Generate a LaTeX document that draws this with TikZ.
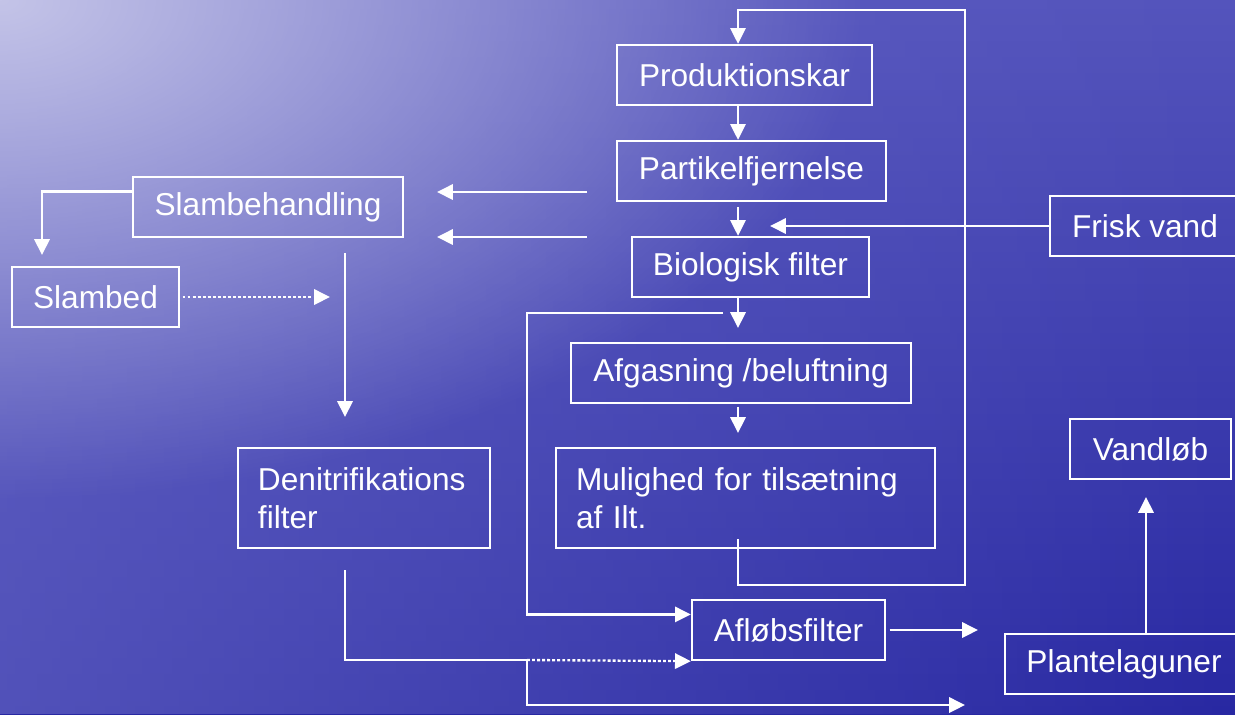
\documentclass[tikz,border=0pt]{standalone}
\usepackage{fontspec}
\setmainfont{Liberation Sans}
\usetikzlibrary{arrows.meta, positioning, calc, fadings}
\definecolor{seadark}{RGB}{40, 40, 162}
\definecolor{seatop}{RGB}{84, 84, 188}
\definecolor{seawash}{RGB}{104, 104, 198}
\definecolor{sealight}{RGB}{196, 196, 232}

\tikzfading[name=cornerglow, inner color=transparent!0, outer color=transparent!100]
\tikzfading[name=leftwash, left color=transparent!35, right color=transparent!100]

\tikzset{
  stage/.style={rectangle, draw=white, line width=2pt, text=white,
    font=\fontsize{27}{32.5}\selectfont, inner sep=0pt, minimum height=1.8cm},
  stagetext/.style={stage, align=left, inner xsep=0.6cm, minimum height=3cm},
  pipe/.style={draw=white, line width=2pt},
  flow/.style={pipe, -{Triangle[length=13.5pt, width=13pt]}},
  dotflow/.style={flow, dash pattern=on 2.5pt off 1.8pt},
}

\begin{document}
\begin{tikzpicture}[x=0.03cm, y=-0.03cm]
    % Background water
    \clip (0,0) rectangle (1235,714);
    \shade[top color=seatop, bottom color=seadark] (0,0) rectangle (1235,714);
    \fill[seawash, path fading=leftwash] (0,0) rectangle (1235,714);
    \fill[sealight, path fading=cornerglow]
        (0,0) ellipse [x radius=26cm, y radius=15cm];

    % Main line
    \node[stage, minimum width=7.65cm] (prod) at (744.5,75) {Produktionskar};
    \node[stage, minimum width=8.07cm] (part) at (751.5,171) {Partikelfjernelse};
    \node[stage, minimum width=7.11cm] (bio) at (750.5,267) {Biologisk filter};
    \node[stage, minimum width=10.2cm] (afgas) at (741,373) {Afgasning /beluftning};
    \node[stagetext, text width=10.17cm] (ilt) at (745.5,498)
        {Mulighed for tilsætning\\af Ilt.};

    % Sludge side
    \node[stage, minimum width=8.1cm] (slamb) at (268,207) {Slambehandling};
    \node[stage, minimum width=5.01cm] (slambed) at (95.5,297) {Slambed};
    \node[stagetext, text width=6.36cm] (denit) at (364,498)
        {Denitrifikations\\filter};

    % Outlet side
    \node[stage, minimum width=5.7cm] (frisk) at (1145,226) {Frisk vand};
    \node[stage, minimum width=5.79cm] (aflob) at (788.5,630) {Afløbsfilter};
    \node[stage, minimum width=7.14cm] (plante) at (1124,664) {Plantelaguner};
    \node[stage, minimum width=4.83cm] (vandlob) at (1150.5,449) {Vandløb};

    % Free ends
    \coordinate (spine) at (738,0);
    \coordinate (friskin) at (770,226);
    \coordinate (loopstart) at (738,539);
    \coordinate (loopright) at (965,585);
    \coordinate (bypass) at (723,313);
    \coordinate (slamout1) at (587,192);
    \coordinate (slamin1) at (437,192);
    \coordinate (slamout2) at (587,237);
    \coordinate (slamin2) at (437,237);
    \coordinate (slambedin) at (42,255);
    \coordinate (slamjoin) at (330,297);
    \coordinate (drop) at (345,253);
    \coordinate (denitin) at (345,417);
    \coordinate (denitout) at (345,570);
    \coordinate (split) at (527,660);
    \coordinate (tolagune) at (965,705);
    \coordinate (afout) at (978,630);
    \coordinate (vup) at (1146,497);

    % Connectors along the main line
    \draw[flow] (prod.south -| spine) -- (part.north -| spine);
    \draw[flow, shorten <=4pt] (part.south -| spine) -- (bio.north -| spine);
    \draw[flow] (bio.south -| spine) -- (738,328);
    \draw[flow, shorten <=2pt] (afgas.south -| spine) -- (738,433);
    \draw[flow] (frisk.west) -- (friskin);
    \draw[flow] (loopstart) |- (loopright) |- (738,10) -- (prod.north -| spine);
    \draw[flow] (bypass) -- (527,313) |- ($(aflob.north west)!.25!(aflob.south west)$);

    % Sludge connectors
    \draw[flow] (slamout1) -- (slamin1);
    \draw[flow] (slamout2) -- (slamin2);
    \draw[flow] ($(slamb.north west)!.25!(slamb.south west)$) -| (slambedin);
    \draw[dotflow, shorten <=2pt] (slambed.east) -- (slamjoin);
    \draw[flow] (drop) -- (denitin);
    \draw[pipe] (denitout) |- (split);
    \draw[dotflow] (split) -- (aflob.south west);
    \draw[flow] (split) |- (tolagune);

    % Outlet connectors
    \draw[flow, shorten <=3pt] (aflob.east) -- (afout);
    \draw[flow] (plante.north -| vup) -- (vup);
\end{tikzpicture}
\end{document}
